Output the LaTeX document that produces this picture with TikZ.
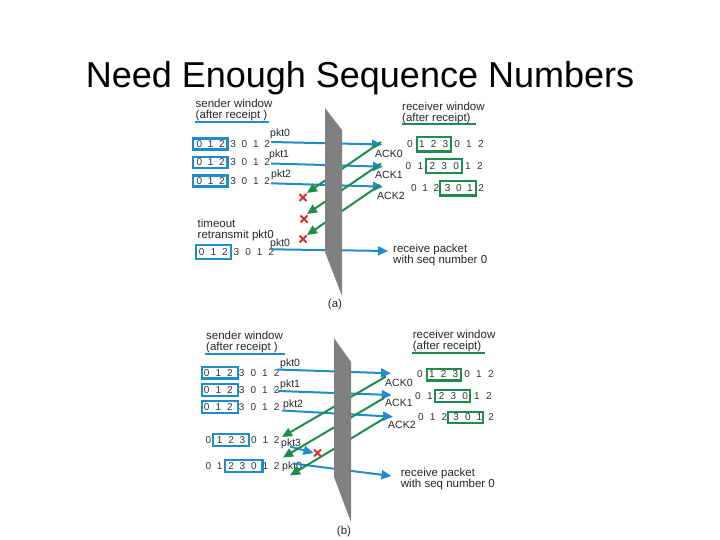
\documentclass[tikz,border=0pt]{standalone}
\usepackage{fontspec}
\setmainfont{Liberation Sans}
\usetikzlibrary{arrows.meta,calc}
\definecolor{myblue}{RGB}{30,140,205}
\definecolor{mygreen}{RGB}{30,140,75}
\definecolor{myred}{RGB}{215,45,45}
\definecolor{wallgray}{RGB}{128,128,128}
\newcommand\digrow[5]{% name, x0, y, dx, list
  \foreach \d [count=\i from 0] in {#5} {\node[dig] (#1-\i) at ({#2+\i*#4},#3) {\d};}}
\newcommand\lostmark[2]{% name, position
  \coordinate (#1) at #2;
  \draw[lostx] ($(#1)+(-3.5,-3.5)$) -- ($(#1)+(3.5,3.5)$) ($(#1)+(-3.5,3.5)$) -- ($(#1)+(3.5,-3.5)$);}
\begin{document}
\begin{tikzpicture}[x=1pt,y=-1pt,
  txt/.style={font=\fontsize{11.5}{11.2}\selectfont, inner sep=0pt, anchor=north west, align=left, text=black!85},
  lbl/.style={font=\fontsize{10.5}{11}\selectfont, inner sep=0pt, anchor=west, text=black!85},
  dig/.style={font=\fontsize{10}{10}\selectfont, inner sep=0pt, text=black!80},
  sbox/.style={draw=myblue, line width=2.3pt},
  rbox/.style={draw=mygreen, line width=2.3pt},
  pkt/.style={draw=myblue, line width=2pt, -{Triangle[length=10pt,width=9pt]}},
  ack/.style={draw=mygreen, line width=2pt, -{Triangle[length=10pt,width=9pt]}},
  wall/.style={fill=wallgray, draw=none},
  lostx/.style={draw=myred, line width=2pt}]
\useasboundingbox (0,0) rectangle (720,540);

% title
\node[font=\fontsize{36}{40}\selectfont, anchor=base, inner sep=0pt] (title) at (360,88) {Need Enough Sequence Numbers};

% ================= (a) =================
\node[txt] (sa-t) at (195.5,99) {sender window\\(after receipt )};
\draw[myblue, line width=2pt] (195,122) coordinate (sa-u1) -- (269,122) coordinate (sa-u2);

\digrow{sa1}{199.3}{144}{11.3}{0,1,2,3,0,1,2}
\digrow{sa2}{199.3}{162.5}{11.3}{0,1,2,3,0,1,2}
\digrow{sa3}{199.3}{181}{11.3}{0,1,2,3,0,1,2}
\draw[sbox] (193,138.5) rectangle (227.5,149.5);
\draw[sbox] (193,157) rectangle (227.5,168);
\draw[sbox] (193,175.5) rectangle (227.5,186.5);

\node[txt] (sa-to) at (197.5,218.5) {timeout\\retransmit pkt0};
\digrow{sa4}{201.7}{252.3}{11.6}{0,1,2,3,0,1,2}
\draw[sbox] (195.7,245.3) rectangle (230.7,259.3);

\node[lbl] (pa0) at (270,134) {pkt0};
\node[lbl] (pa1) at (269,155) {pkt1};
\node[lbl] (pa2) at (271,175) {pkt2};
\node[lbl] (pa3) at (270,243.5) {pkt0};

\coordinate (a0s) at (271,142);   \coordinate (a0e) at (382,144.5);
\coordinate (a1s) at (271,163.5); \coordinate (a1e) at (383,166.7);
\coordinate (a2s) at (271,183.3); \coordinate (a2e) at (383,186.7);
\coordinate (a3s) at (271,249.3); \coordinate (a3e) at (388,251);
\draw[pkt] (a0s) -- (a0e);
\draw[pkt] (a1s) -- (a1e);
\draw[pkt] (a2s) -- (a2e);
\draw[pkt] (a3s) -- (a3e);

\coordinate (k0s) at (381,142);   \coordinate (k0e) at (307,193);
\coordinate (k1s) at (381,163.5); \coordinate (k1e) at (307,214);
\coordinate (k2s) at (380,185);   \coordinate (k2e) at (307,235);
\draw[ack] (k0s) -- (k0e);
\draw[ack] (k1s) -- (k1e);
\draw[ack] (k2s) -- (k2e);

\fill[wall] (325,108) coordinate (wa1) -- (342,130) -- (342,296) -- (325,252) -- cycle;

\lostmark{xa0}{(303,197.5)}
\lostmark{xa1}{(304,219)}
\lostmark{xa2}{(303,239)}

\node[lbl] (ka0) at (375,154.3) {ACK0};
\node[lbl] (ka1) at (375,175) {ACK1};
\node[lbl] (ka2) at (377,195.5) {ACK2};

\node[txt] (ra-t) at (402,101.5) {receiver window\\(after receipt)};
\draw[mygreen, line width=2pt] (402,124) coordinate (ra-u1) -- (476,124) coordinate (ra-u2);

\digrow{ra1}{410}{144.3}{11.8}{0,1,2,3,0,1,2}
\digrow{ra2}{408.5}{166}{11.9}{0,1,2,3,0,1,2}
\digrow{ra3}{414}{188.3}{11.2}{0,1,2,3,0,1,2}
\draw[rbox] (417.3,137) rectangle (450.7,151.5);
\draw[rbox] (425.7,159) rectangle (461.7,173);
\draw[rbox] (440,181) rectangle (475.7,195.5);

\node[txt] (ra-r) at (393,243.5) {receive packet\\with seq number 0};

\node[font=\fontsize{11.5}{12}\selectfont, inner sep=0pt, text=black!85] (capa) at (335,305) {(a)};

% ================= (b) =================
\node[txt] (sb-t) at (206,330.5) {sender window\\(after receipt )};
\draw[myblue, line width=2pt] (205,353.5) coordinate (sb-u1) -- (285,353.5) coordinate (sb-u2);

\digrow{sb1}{206.7}{372.7}{11.65}{0,1,2,3,0,1,2}
\digrow{sb2}{206.7}{390}{11.65}{0,1,2,3,0,1,2}
\digrow{sb3}{206.7}{406.7}{11.65}{0,1,2,3,0,1,2}
\draw[sbox] (202.3,366.7) rectangle (237.7,378.5);
\draw[sbox] (202.3,384.3) rectangle (237.7,396);
\draw[sbox] (202.3,401) rectangle (237.7,413);
\digrow{sb4}{208.3}{440}{11.4}{0,1,2,3,0,1,2}
\draw[sbox] (213.3,434.3) rectangle (249,446);
\digrow{sb5}{208.3}{466}{11.4}{0,1,2,3,0,1,2}
\draw[sbox] (225,460.3) rectangle (262.5,471.7);

\node[lbl] (pb0) at (280,364) {pkt0};
\node[lbl] (pb1) at (280,385) {pkt1};
\node[lbl] (pb2) at (283,405) {pkt2};
\node[lbl] (pb3) at (281,444) {pkt3};
\node[lbl] (pb4) at (282,467) {pkt0};

\coordinate (b0s) at (277,369.5); \coordinate (b0e) at (391,373.3);
\coordinate (b1s) at (278,391);   \coordinate (b1e) at (391.7,395);
\coordinate (b2s) at (282,410.5); \coordinate (b2e) at (393,416.7);
\coordinate (b3s) at (290,446.5); \coordinate (b3e) at (313.5,453);
\coordinate (b4s) at (293,463.5); \coordinate (b4e) at (391.5,476);
\draw[pkt] (b0s) -- (b0e);
\draw[pkt] (b1s) -- (b1e);
\draw[pkt] (b2s) -- (b2e);
\draw[pkt] (b3s) -- (b3e);
\draw[pkt] (b4s) -- (b4e);

\coordinate (c0s) at (386,376.5); \coordinate (c0e) at (282,437);
\coordinate (c1s) at (384,398);   \coordinate (c1e) at (283,457.5);
\coordinate (c2s) at (384,418.5); \coordinate (c2e) at (290,475.5);
\draw[ack] (c0s) -- (c0e);
\draw[ack] (c1s) -- (c1e);
\draw[ack] (c2s) -- (c2e);

\fill[wall] (334,338) coordinate (wb1) -- (351,362) -- (351,522) -- (334,477) -- cycle;

\lostmark{xb0}{(317.5,453)}

\node[lbl] (kb0) at (385,382.7) {ACK0};
\node[lbl] (kb1) at (385,403.3) {ACK1};
\node[lbl] (kb2) at (388,425) {ACK2};

\node[txt] (rb-t) at (412.7,330) {receiver window\\(after receipt)};
\draw[mygreen, line width=2pt] (412,352.5) coordinate (rb-u1) -- (485,352.5) coordinate (rb-u2);

\digrow{rb1}{420}{374.3}{11.8}{0,1,2,3,0,1,2}
\digrow{rb2}{418}{396}{11.8}{0,1,2,3,0,1,2}
\digrow{rb3}{421}{417.3}{11.7}{0,1,2,3,0,1,2}
\draw[rbox] (426.7,369) rectangle (460.7,380.5);
\draw[rbox] (435,390) rectangle (470,401.7);
\draw[rbox] (448.3,411.7) rectangle (483.3,423.3);

\node[txt] (rb-r) at (400.7,468) {receive packet\\with seq number 0};

\node[font=\fontsize{11.5}{12}\selectfont, inner sep=0pt, text=black!85] (capb) at (344,532) {(b)};
\end{tikzpicture}
\end{document}
